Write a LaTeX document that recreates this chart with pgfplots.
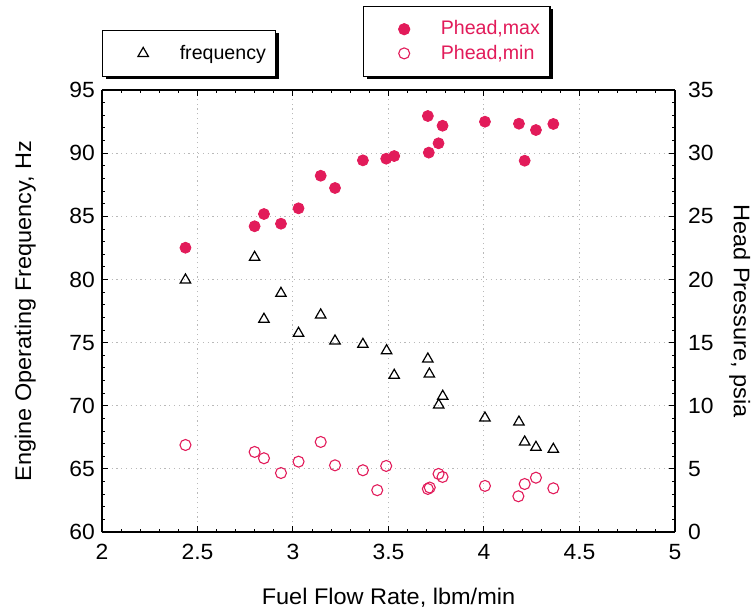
\documentclass[border=0pt]{standalone}
\usepackage{fontspec}
\setmainfont{Liberation Sans}
\newfontfamily\axfont[FakeStretch=1.04]{Liberation Sans}
\usepackage{pgfplots}
\pgfplotsset{compat=1.18}
\usetikzlibrary{shadows}
\definecolor{crim}{RGB}{226,27,90}

\pgfplotstableread{
x f
2.437 79.96
2.799 81.75
2.848 76.85
2.937 78.90
3.029 75.74
3.145 77.19
3.220 75.13
3.366 74.86
3.490 74.36
3.530 72.41
3.706 73.70
3.714 72.51
3.763 70.06
3.784 70.75
4.005 69.03
4.183 68.71
4.213 67.13
4.272 66.71
4.363 66.55
}\freq

\pgfplotstableread{
x p
2.437 22.51
2.799 24.21
2.848 25.18
2.937 24.41
3.029 25.63
3.145 28.21
3.220 27.24
3.366 29.43
3.488 29.56
3.530 29.77
3.706 32.94
3.711 30.04
3.762 30.78
3.783 32.17
4.005 32.49
4.183 32.33
4.213 29.40
4.272 31.83
4.363 32.31
}\pmax

\pgfplotstableread{
x p
2.437 6.89
2.799 6.34
2.848 5.84
2.937 4.67
3.029 5.57
3.145 7.13
3.220 5.28
3.366 4.89
3.441 3.31
3.488 5.23
3.706 3.41
3.716 3.52
3.762 4.60
3.783 4.36
4.005 3.65
4.180 2.83
4.213 3.80
4.272 4.30
4.363 3.46
}\pmin

\pgfplotsset{
  myaxis/.style={
    scale only axis, width=286.5pt, height=221pt,
    at={(0,0)}, anchor=south west,
    xmin=2, xmax=5,
    /pgf/number format/assume math mode=true,
    tick align=inside,
    major tick length=3pt, minor tick length=1.6pt,
    minor tick num=4,
    axis line style={line width=0.6pt},
    every tick/.style={black, line width=0.5pt},
    every minor tick/.style={black, line width=0.4pt},
    tick label style={font=\axfont\fontsize{11}{13}\selectfont},
    label style={font=\axfont\fontsize{11.3}{13.5}\selectfont},
    legend cell align=left,
    legend image code/.code={\path (0pt,0pt) (28pt,0pt); \draw[##1] plot coordinates {(15pt,0pt)};},
    legend style={
      draw=black, line width=0.6pt, fill=white,
      drop shadow={shadow xshift=1.5pt, shadow yshift=-1.5pt, fill=black, opacity=1},
      inner xsep=5pt, inner ysep=7.2pt,
      nodes={inner sep=0pt},
      column sep=5pt, row sep=3.5pt,
      font=\fontsize{9.8}{11.8}\selectfont,
      anchor=south west,
    },
  }
}

\begin{document}
\begin{tikzpicture}
\useasboundingbox (-51pt,-39.5pt) rectangle (327pt,266pt);
\begin{axis}[myaxis,
  ymin=60, ymax=95, ytick={60,65,...,95},
  xtick={2,2.5,...,5},
  axis y line*=left,
  grid=major,
  grid style={gray!55, line width=0.5pt, dash pattern=on 0.6pt off 1.8pt},
  xticklabel style={yshift=-2.5pt},
  xlabel={Fuel Flow Rate, lbm/min},
  xlabel style={at={(axis description cs:0.5,-0.149)}, anchor=center},
  ylabel={Engine Operating Frequency, Hz},
  ylabel style={at={(axis description cs:-0.134,0.5)}, anchor=center},
  legend style={at={(0,1.0294)}},
]
\addplot[only marks, mark=triangle, mark size=3pt, black, mark options={line width=0.6pt}] table[x=x,y=f]{\freq};
\addlegendentry{frequency}
\end{axis}
\begin{axis}[myaxis,
  ymin=0, ymax=35, ytick={0,5,...,35},
  axis y line*=right, axis x line=none,
  yticklabel style={xshift=3pt},
  ylabel={Head Pressure, psia},
  ylabel style={at={(axis description cs:1.113,0.5)}, anchor=center, rotate=180},
  legend style={at={(0.4555,1.0294)}, text=crim},
]
\addplot[only marks, mark=*, mark size=2.75pt, crim, mark options={fill=crim, draw=crim}] table[x=x,y=p]{\pmax};
\addlegendentry{Phead,max}
\addplot[only marks, mark=o, mark size=2.75pt, crim, mark options={line width=0.55pt}] table[x=x,y=p]{\pmin};
\addlegendentry{Phead,min}
\end{axis}
\end{tikzpicture}
\end{document}
